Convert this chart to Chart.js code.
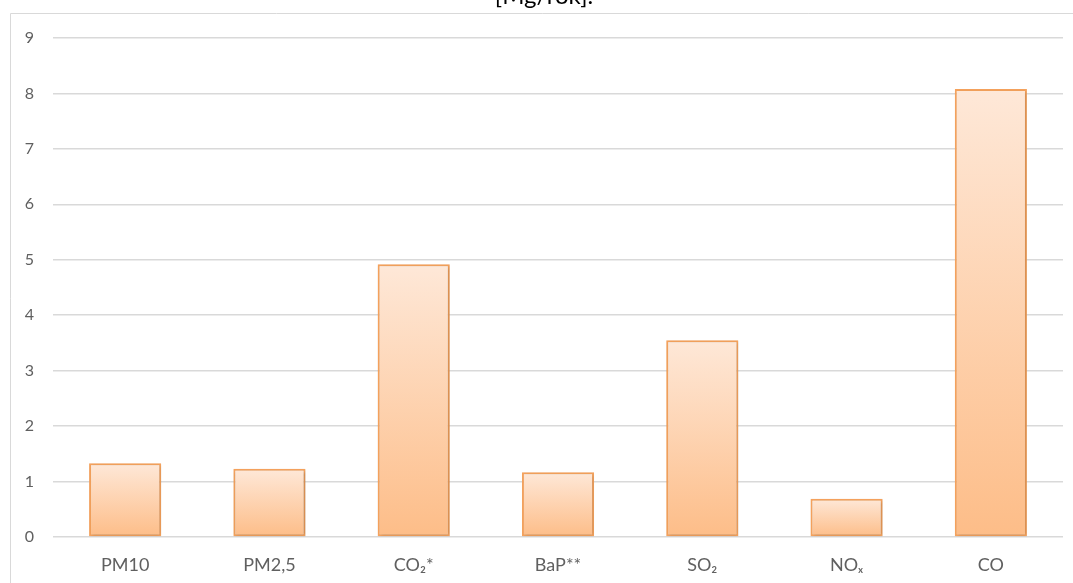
<!DOCTYPE html>
<html>
<head>
<meta charset="utf-8">
<script src="https://cdn.jsdelivr.net/npm/chart.js@4.4.1/dist/chart.umd.min.js"></script>
<style>
  html, body { margin: 0; padding: 0; background: #ffffff; }
  #wrap { position: relative; width: 1073px; height: 583px; overflow: hidden; }
  canvas { display: block; }
</style>
</head>
<body>
<div id="wrap"><canvas id="c" width="1073" height="583"></canvas></div>
<script>
// Emission totals per pollutant, Mg per year
const categories = ['PM10', 'PM2,5', 'CO\u2082*', 'BaP**', 'SO\u2082', 'NO\u2093', 'CO'];
const emissions = [1.33, 1.23, 4.92, 1.17, 3.55, 0.69, 8.08];
const yTicks = [0, 1, 2, 3, 4, 5, 6, 7, 8, 9];
const unitLabel = '[Mg/rok].';

const fontFamily = 'Lato, "Open Sans", "Liberation Sans", sans-serif';

// Vertical gradient per bar: pale peach at the top, deeper orange at the base
function barGradient(ctx) {
  const chart = ctx.chart;
  const area = chart.chartArea;
  if (!area || ctx.dataIndex === undefined) return '#fcd2b0';
  const y = chart.scales.y;
  const top = y.getPixelForValue(ctx.raw);
  const base = y.getPixelForValue(0);
  const g = chart.ctx.createLinearGradient(0, top, 0, base);
  g.addColorStop(0, '#fee8d8');
  g.addColorStop(1, '#fdbd88');
  return g;
}

// Outer frame and the clipped unit caption above it
const framePlugin = {
  id: 'frame',
  beforeDraw(chart) {
    const c = chart.ctx;
    c.save();
    c.strokeStyle = '#d9d9d9';
    c.lineWidth = 1;
    c.beginPath();
    c.moveTo(10.5, chart.height + 5);
    c.lineTo(10.5, 13.5);
    c.lineTo(chart.width + 5, 13.5);
    c.stroke();
    c.fillStyle = '#000000';
    c.font = '24px ' + fontFamily;
    c.textAlign = 'center';
    c.textBaseline = 'alphabetic';
    c.fillText(unitLabel, 544, 4);
    c.restore();
  }
};

// Soft drop shadow under the bars
const shadowPlugin = {
  id: 'barShadow',
  beforeDatasetsDraw(chart) {
    const c = chart.ctx;
    c.save();
    c.shadowColor = 'rgba(0,0,0,0.22)';
    c.shadowBlur = 3;
    c.shadowOffsetX = 1;
    c.shadowOffsetY = 1;
  },
  afterDatasetsDraw(chart) {
    chart.ctx.restore();
  }
};

new Chart(document.getElementById('c'), {
  type: 'bar',
  data: {
    labels: categories,
    datasets: [{
      data: emissions,
      backgroundColor: barGradient,
      borderColor: '#f5a25c',
      borderWidth: 2,
      borderSkipped: false,
      categoryPercentage: 1.0,
      barPercentage: 0.5
    }]
  },
  options: {
    responsive: false,
    animation: false,
    events: [],
    layout: { padding: { top: 38, right: 10, left: 0, bottom: 0 } },
    plugins: {
      legend: { display: false },
      tooltip: { enabled: false },
      title: { display: false }
    },
    scales: {
      x: {
        afterFit(scale) { scale.height = 46; },
        grid: { display: false, drawTicks: false },
        border: { display: false },
        ticks: {
          color: '#606060',
          padding: 17,
          font: { family: fontFamily, size: 18 }
        }
      },
      y: {
        min: 0,
        max: 9,
        afterBuildTicks(scale) { scale.ticks = yTicks.map(v => ({ value: v })); },
        afterFit(scale) { scale.width = 53; },
        grid: { color: '#d9d9d9', lineWidth: 1.5, drawTicks: false },
        border: { display: false },
        ticks: {
          color: '#606060',
          padding: 19,
          font: { family: fontFamily, size: 16 }
        }
      }
    }
  },
  plugins: [framePlugin, shadowPlugin]
});
</script>
</body>
</html>
